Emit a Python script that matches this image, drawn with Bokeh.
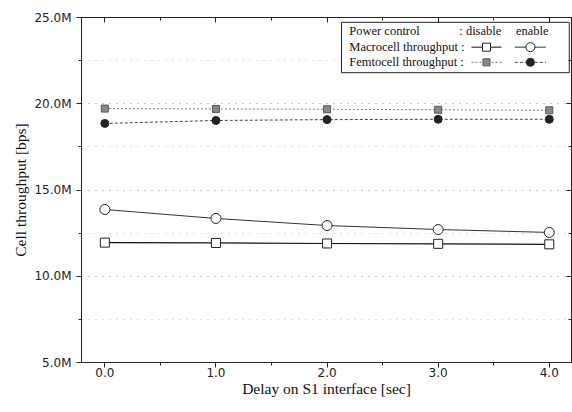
from bokeh.plotting import figure
from bokeh.models import Range1d, SingleIntervalTicker, PrintfTickFormatter, LinearAxis
from bokeh.core.properties import value
from bokeh.embed import file_html
from bokeh.resources import INLINE

# ---- data (throughput in Mbps) ----
delay = [0.0, 1.0, 2.0, 3.0, 4.0]
macro_disable = [11.95, 11.93, 11.90, 11.88, 11.85]
macro_enable = [13.87, 13.35, 12.94, 12.71, 12.54]
femto_disable = [19.72, 19.70, 19.68, 19.65, 19.62]
femto_enable = [18.86, 19.03, 19.08, 19.10, 19.10]

x_title = "Delay on S1 interface [sec]"
y_title = "Cell throughput [bps]"
legend_header = ["Power control", ": disable", "enable"]
legend_rows = ["Macrocell throughput :", "Femtocell throughput :"]

SERIF = "Liberation Serif"
SANS = "DejaVu Sans"

p = figure(width=572, height=404, output_backend="svg", toolbar_location=None,
           x_range=Range1d(-0.21, 4.2), y_range=Range1d(5.0, 25.0),
           min_border_left=81, min_border_right=1, min_border_top=17, min_border_bottom=42)
p.background_fill_color = "white"
p.border_fill_color = "white"
p.outline_line_color = "#222222"
p.outline_line_width = 1

# mirrored inward ticks on top and right
top_ax = LinearAxis()
right_ax = LinearAxis()
p.add_layout(top_ax, "above")
p.add_layout(right_ax, "right")

p.xaxis.ticker = SingleIntervalTicker(interval=1, num_minor_ticks=2)
p.yaxis.ticker = SingleIntervalTicker(interval=5, num_minor_ticks=2)
p.xaxis.formatter = PrintfTickFormatter(format="%.1f")
p.yaxis.formatter = PrintfTickFormatter(format="%.1fM")
for ax in (p.xaxis + p.yaxis):
    ax.axis_line_color = "#222222"
    ax.major_tick_line_color = "#222222"
    ax.minor_tick_line_color = "#222222"
    ax.major_tick_in = 0
    ax.major_tick_out = 5
    ax.minor_tick_in = 0
    ax.minor_tick_out = 3
    ax.major_label_text_font = SANS
    ax.major_label_text_font_size = "12px"
    ax.major_label_text_color = "#222222"
    ax.axis_label_text_font = SERIF
    ax.axis_label_text_font_size = "15.5px"
    ax.axis_label_text_font_style = "normal"
    ax.axis_label_text_color = "#111111"
for ax in (top_ax, right_ax):
    ax.major_tick_in = 5
    ax.major_tick_out = 0
    ax.minor_tick_in = 3
    ax.minor_tick_out = 0
    ax.major_label_text_font_size = "0px"
    ax.major_label_standoff = 0
    ax.major_label_text_alpha = 0
    ax.axis_line_color = None

p.below[0].axis_label = x_title
p.left[0].axis_label = y_title
p.below[0].major_label_standoff = 0
p.left[0].major_label_standoff = 5
p.below[0].axis_label_standoff = 0
p.left[0].axis_label_standoff = 2

# grid
p.xgrid.grid_line_color = None
p.ygrid.grid_line_color = "#bbbbbb"
p.ygrid.grid_line_dash = "1 6"
p.ygrid.minor_grid_line_color = "#bbbbbb"
p.ygrid.minor_grid_line_dash = "1 6"

# series
p.line(delay, femto_disable, line_color="#777777", line_width=1, line_dash="2 2")
p.scatter(delay, femto_disable, marker="square", size=7, fill_color="#888888",
          line_color="#555555", line_width=1)
p.line(delay, femto_enable, line_color="#444444", line_width=1, line_dash="3 2")
p.scatter(delay, femto_enable, marker="circle", size=8, fill_color="#222222",
          line_color="#222222", line_width=1)
p.line(delay, macro_enable, line_color="#333333", line_width=1)
p.scatter(delay, macro_enable, marker="circle", size=10, fill_color="white",
          line_color="#222222", line_width=1)
p.line(delay, macro_disable, line_color="#111111", line_width=1.2)
p.scatter(delay, macro_disable, marker="square", size=9, fill_color="white",
          line_color="#222222", line_width=1)

# ---- legend (table-like box) ----
lg_left, lg_right, lg_top, lg_bottom = 2.13, 4.18, 24.72, 21.80
p.quad(left=[lg_left], right=[lg_right], top=[lg_top], bottom=[lg_bottom],
       fill_color="white", line_color="#222222", line_width=1)
row_y = [24.19, 23.28, 22.40]
col_text = [2.20, 3.19, 3.70]
p.text(col_text, [row_y[0]] * 3, text=legend_header, text_font=value(SERIF),
       text_font_size="12.5px", text_baseline="middle", text_color="#111111")
p.text([col_text[0]] * 2, row_y[1:], text=legend_rows, text_font=value(SERIF),
       text_font_size="12.5px", text_baseline="middle", text_color="#111111")
dis_x = [3.30, 3.57]
en_x = [3.69, 3.97]
# macro row
p.line(dis_x, [row_y[1]] * 2, line_color="#111111", line_width=1)
p.scatter([sum(dis_x) / 2], [row_y[1]], marker="square", size=8, fill_color="white",
          line_color="#222222")
p.line(en_x, [row_y[1]] * 2, line_color="#333333", line_width=1)
p.scatter([sum(en_x) / 2], [row_y[1]], marker="circle", size=9, fill_color="white",
          line_color="#222222")
# femto row
p.line(dis_x, [row_y[2]] * 2, line_color="#777777", line_width=1, line_dash="2 2")
p.scatter([sum(dis_x) / 2], [row_y[2]], marker="square", size=7, fill_color="#888888",
          line_color="#555555")
p.line(en_x, [row_y[2]] * 2, line_color="#444444", line_width=1, line_dash="3 2")
p.scatter([sum(en_x) / 2], [row_y[2]], marker="circle", size=8, fill_color="#222222",
          line_color="#222222")

open("out.html", "w").write(file_html(p, INLINE))
